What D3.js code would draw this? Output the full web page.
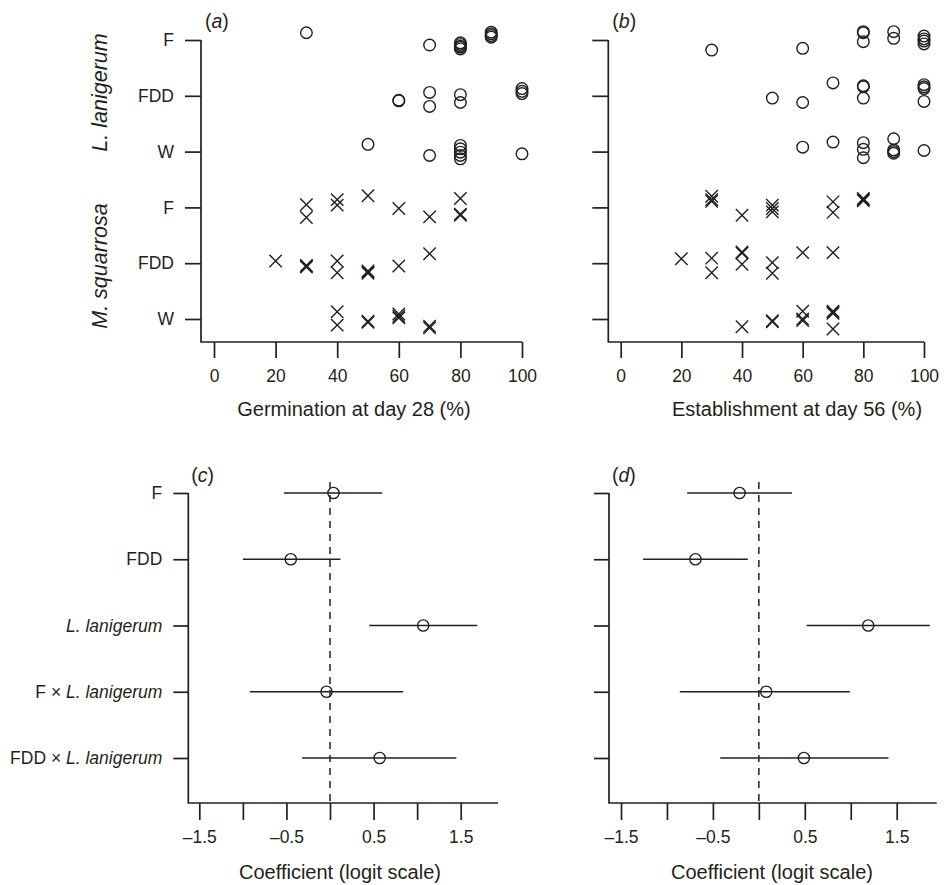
<!DOCTYPE html>
<meta charset="utf-8">
<style>
body { margin: 0; background: #fff; }
text { font-family: "Liberation Sans", Arial, sans-serif; fill: #231f20; }
.axis path.domain { display: none; }
.axis line, .frame { stroke: #231f20; stroke-width: 1.7; fill: none; }
.pt { stroke: #231f20; stroke-width: 1.4; fill: none; }
.ci { stroke: #231f20; stroke-width: 1.6; }
</style>
<body>
<script src="https://d3js.org/d3.v7.min.js"></script>
<script>

var treatments = ["F", "FDD", "W"];
var speciesNames = ["L. lanigerum", "M. squarrosa"];
var pctTicks = [0, 20, 40, 60, 80, 100];

// [treatment, percent, vertical jitter in row units]
var germLan = [
  ["F", 30, -0.13], ["F", 70, 0.09], ["F", 80, 0.05], ["F", 80, 0.08], ["F", 80, 0.11],
  ["F", 80, 0.13], ["F", 80, 0.16], ["F", 90, -0.14], ["F", 90, -0.11], ["F", 90, -0.08], ["F", 90, -0.05],
  ["FDD", 60, 0.08], ["FDD", 60, 0.09], ["FDD", 70, -0.06], ["FDD", 70, 0.19], ["FDD", 80, -0.02],
  ["FDD", 80, 0.12], ["FDD", 100, -0.13], ["FDD", 100, -0.08], ["FDD", 100, -0.04],
  ["W", 50, -0.13], ["W", 70, 0.07], ["W", 80, -0.11], ["W", 80, -0.05], ["W", 80, 0.01],
  ["W", 80, 0.07], ["W", 80, 0.13], ["W", 100, 0.04]
];
var germMsq = [
  ["F", 30, -0.05], ["F", 30, 0.18], ["F", 40, -0.14], ["F", 40, -0.04], ["F", 50, -0.21],
  ["F", 60, 0.02], ["F", 70, 0.17], ["F", 80, -0.16], ["F", 80, 0.12], ["F", 80, 0.14],
  ["FDD", 20, -0.04], ["FDD", 30, 0.04], ["FDD", 30, 0.05], ["FDD", 30, 0.07], ["FDD", 40, -0.04],
  ["FDD", 40, 0.17], ["FDD", 50, 0.14], ["FDD", 50, 0.16], ["FDD", 50, 0.18], ["FDD", 60, 0.05], ["FDD", 70, -0.17],
  ["W", 40, -0.13], ["W", 40, 0.11], ["W", 50, 0.04], ["W", 50, 0.06], ["W", 60, -0.09],
  ["W", 60, -0.05], ["W", 60, -0.02], ["W", 70, 0.13], ["W", 70, 0.16]
];
var estLan = [
  ["F", 30, 0.18], ["F", 60, 0.15], ["F", 80, -0.15], ["F", 80, -0.13], ["F", 80, 0.03],
  ["F", 90, -0.15], ["F", 90, -0.03], ["F", 100, -0.07], ["F", 100, -0.02], ["F", 100, 0.02], ["F", 100, 0.07],
  ["FDD", 50, 0.04], ["FDD", 60, 0.12], ["FDD", 70, -0.23], ["FDD", 80, -0.18], ["FDD", 80, -0.16],
  ["FDD", 80, 0.04], ["FDD", 100, -0.2], ["FDD", 100, -0.16], ["FDD", 100, -0.13], ["FDD", 100, 0.1],
  ["W", 60, -0.08], ["W", 70, -0.17], ["W", 80, -0.16], ["W", 80, -0.04], ["W", 80, 0.11],
  ["W", 90, -0.23], ["W", 90, -0.03], ["W", 90, 0], ["W", 90, 0.03], ["W", 100, -0.02]
];
var estMsq = [
  ["F", 30, -0.2], ["F", 30, -0.14], ["F", 30, -0.11], ["F", 40, 0.14], ["F", 50, -0.04],
  ["F", 50, 0.02], ["F", 50, 0.08], ["F", 70, -0.1], ["F", 70, 0.09], ["F", 80, -0.16], ["F", 80, -0.14], ["F", 80, -0.12],
  ["FDD", 20, -0.08], ["FDD", 30, -0.09], ["FDD", 30, 0.17], ["FDD", 40, -0.2], ["FDD", 40, -0.18],
  ["FDD", 40, 0.02], ["FDD", 50, -0.01], ["FDD", 50, 0.18], ["FDD", 60, -0.19], ["FDD", 70, -0.19],
  ["W", 40, 0.14], ["W", 50, 0.03], ["W", 50, 0.05], ["W", 60, -0.14], ["W", 60, 0],
  ["W", 60, 0.03], ["W", 70, -0.14], ["W", 70, -0.12], ["W", 70, -0.1], ["W", 70, 0.18]
];

var coefTerms = ["F", "FDD", "L. lanigerum", "F \u00d7 L. lanigerum", "FDD \u00d7 L. lanigerum"];
var coefTicks = [-1.5, -1, -0.5, 0, 0.5, 1, 1.5];
var coefLabelled = [-1.5, -0.5, 0.5, 1.5];
// [estimate, lower, upper]
var germCoef = [[0.04, -0.53, 0.60], [-0.45, -1.0, 0.12], [1.07, 0.45, 1.69], [-0.04, -0.92, 0.84], [0.57, -0.32, 1.45]];
var estCoef = [[-0.21, -0.78, 0.36], [-0.69, -1.26, -0.12], [1.19, 0.52, 1.86], [0.08, -0.86, 0.99], [0.49, -0.42, 1.41]];

var svg = d3.select("body").append("svg")
    .attr("width", 944)
    .attr("height", 885);

function panelTag(x, y, letter) {
  var t = svg.append("text").attr("x", x).attr("y", y).attr("font-size", 19.5);
  t.append("tspan").text("(");
  t.append("tspan").attr("font-style", "italic").text(letter);
  t.append("tspan").text(")");
}

function scatterPanel(p, lan, msq, title, letter, showLabels) {
  var x = d3.scaleLinear().domain([0, 100]).range([p.x0, p.x100]);
  var y = d3.scaleLinear().domain([0, 5]).range([40, 319]);
  var bottom = 342;

  svg.append("path").attr("class", "frame")
      .attr("d", "M" + p.left + ",40V" + bottom + "H" + x(100));

  var ya = svg.append("g").attr("class", "axis")
      .attr("transform", "translate(" + p.left + ",0)")
      .call(d3.axisLeft(y).tickValues([0, 1, 2, 3, 4, 5])
        .tickFormat(function(i) { return showLabels ? treatments[i % 3] : ""; })
        .tickSize(16).tickPadding(11));
  ya.attr("font-size", 17.5).attr("font-family", null);

  var xa = svg.append("g").attr("class", "axis")
      .attr("transform", "translate(0," + bottom + ")")
      .call(d3.axisBottom(x).tickValues(pctTicks).tickSize(16).tickPadding(12));
  xa.attr("font-size", 17.5).attr("font-family", null);

  function row(sp, tr, j) { return y(sp * 3 + treatments.indexOf(tr) + j); }

  svg.append("g").selectAll("circle")
    .data(lan).enter().append("circle")
      .attr("class", "pt")
      .attr("cx", function(d) { return x(d[1]); })
      .attr("cy", function(d) { return row(0, d[0], d[2]); })
      .attr("r", 5.8);

  var s = 6.2;
  svg.append("g").selectAll("path")
    .data(msq).enter().append("path")
      .attr("class", "pt")
      .attr("d", function(d) {
        var cx = x(d[1]), cy = row(1, d[0], d[2]);
        return "M" + (cx - s) + "," + (cy - s) + "L" + (cx + s) + "," + (cy + s) +
               "M" + (cx - s) + "," + (cy + s) + "L" + (cx + s) + "," + (cy - s);
      });

  svg.append("text").attr("x", p.titleX).attr("y", 416)
      .attr("text-anchor", "middle").attr("font-size", 20).text(title);

  panelTag(p.left + 4, 28, letter);

  if (showLabels) {
    [[speciesNames[0], 92.5], [speciesNames[1], 266]].forEach(function(d) {
      svg.append("text")
        .attr("transform", "translate(107," + d[1] + ") rotate(-90)")
        .attr("text-anchor", "middle").attr("font-size", 21.5)
        .attr("font-style", "italic").text(d[0]);
    });
  }
}

function coefPanel(p, data, letter, showLabels) {
  var x = d3.scaleLinear().domain([-1.5, 1.5]).range([p.xa, p.xb]);
  var y = d3.scaleLinear().domain([0, 4]).range([493, 758]);
  var bottom = 803;

  svg.append("path").attr("class", "frame")
      .attr("d", "M" + p.left + ",493V" + bottom + "H" + p.right);

  svg.append("line")
      .attr("x1", x(0)).attr("x2", x(0)).attr("y1", 482).attr("y2", bottom)
      .attr("stroke", "#231f20").attr("stroke-width", 1.5)
      .attr("stroke-dasharray", "7,6");

  var ya = svg.append("g").attr("class", "axis")
      .attr("transform", "translate(" + p.left + ",0)")
      .call(d3.axisLeft(y).tickValues([0, 1, 2, 3, 4])
        .tickFormat(function(i) { return showLabels ? coefTerms[i] : ""; })
        .tickSize(15).tickPadding(11));
  ya.attr("font-size", 17.5).attr("font-family", null);

  ya.selectAll(".tick text").each(function(i) {
    var t = d3.select(this), term = showLabels ? coefTerms[i] : "";
    var k = term.indexOf("L. lanigerum");
    if (k < 0) return;
    t.text(null);
    if (k > 0) t.append("tspan").text(term.slice(0, k));
    t.append("tspan").attr("font-style", "italic").text("L. lanigerum");
  });

  var xa = svg.append("g").attr("class", "axis")
      .attr("transform", "translate(0," + bottom + ")")
      .call(d3.axisBottom(x).tickValues(coefTicks).tickSize(17).tickPadding(11)
        .tickFormat(function(d) {
          if (coefLabelled.indexOf(d) < 0) return "";
          return d < 0 ? "\u2013" + Math.abs(d) : String(d);
        }));
  xa.attr("font-size", 17.5).attr("font-family", null);

  var g = svg.append("g");
  g.selectAll("line.ci").data(data).enter().append("line")
      .attr("class", "ci")
      .attr("x1", function(d) { return x(d[1]); })
      .attr("x2", function(d) { return x(d[2]); })
      .attr("y1", function(d, i) { return y(i); })
      .attr("y2", function(d, i) { return y(i); });
  g.selectAll("circle").data(data).enter().append("circle")
      .attr("class", "pt")
      .attr("cx", function(d) { return x(d[0]); })
      .attr("cy", function(d, i) { return y(i); })
      .attr("r", 5.6);

  svg.append("text").attr("x", p.titleX).attr("y", 879)
      .attr("text-anchor", "middle").attr("font-size", 20)
      .text("Coefficient (logit scale)");

  panelTag(p.left + 3, 482, letter);
}

scatterPanel({left: 201, x0: 214, x100: 522, titleX: 354}, germLan, germMsq,
  "Germination at day 28 (%)", "a", true);
scatterPanel({left: 608.3, x0: 620.7, x100: 924, titleX: 797}, estLan, estMsq,
  "Establishment at day 56 (%)", "b", false);

coefPanel({left: 188.3, right: 498, xa: 199.3, xb: 460.7, titleX: 340}, germCoef, "c", true);
coefPanel({left: 609, right: 936.7, xa: 621, xb: 896.7, titleX: 772}, estCoef, "d", false);

</script>
</body>
